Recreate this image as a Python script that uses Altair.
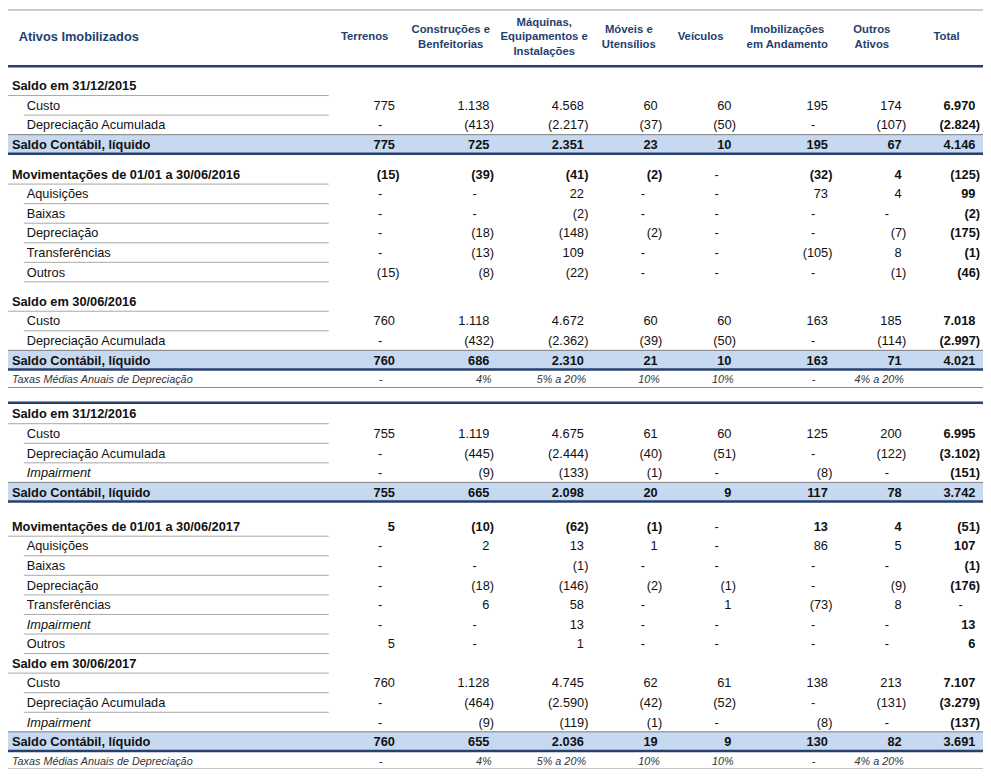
import altair as alt
import pandas as pd

# ---------------- data ----------------
table_title = "Ativos Imobilizados"
header_lines = [["Terrenos"], ["Construções e", "Benfeitorias"],
                ["Máquinas,", "Equipamentos e", "Instalações"],
                ["Móveis e", "Utensílios"], ["Veículos"],
                ["Imobilizações", "em Andamento"], ["Outros", "Ativos"], ["Total"]]

row_labels = ["Saldo em 31/12/2015", "Custo", "Depreciação Acumulada", "Saldo Contábil, líquido",
              "Movimentações de 01/01 a 30/06/2016", "Aquisições", "Baixas", "Depreciação",
              "Transferências", "Outros",
              "Saldo em 30/06/2016", "Custo", "Depreciação Acumulada", "Saldo Contábil, líquido",
              "Taxas Médias Anuais de Depreciação",
              "Saldo em 31/12/2016", "Custo", "Depreciação Acumulada", "Impairment",
              "Saldo Contábil, líquido",
              "Movimentações de 01/01 a 30/06/2017", "Aquisições", "Baixas", "Depreciação",
              "Transferências", "Impairment", "Outros",
              "Saldo em 30/06/2017", "Custo", "Depreciação Acumulada", "Impairment",
              "Saldo Contábil, líquido", "Taxas Médias Anuais de Depreciação"]

terrenos = ["", "775", "-", "775", "(15)", "-", "-", "-", "-", "(15)",
            "", "760", "-", "760", "-",
            "", "755", "-", "-", "755",
            "5", "-", "-", "-", "-", "-", "5",
            "", "760", "-", "-", "760", "-"]
construcoes = ["", "1.138", "(413)", "725", "(39)", "-", "-", "(18)", "(13)", "(8)",
               "", "1.118", "(432)", "686", "4%",
               "", "1.119", "(445)", "(9)", "665",
               "(10)", "2", "-", "(18)", "6", "-", "-",
               "", "1.128", "(464)", "(9)", "655", "4%"]
maquinas = ["", "4.568", "(2.217)", "2.351", "(41)", "22", "(2)", "(148)", "109", "(22)",
            "", "4.672", "(2.362)", "2.310", "5% a 20%",
            "", "4.675", "(2.444)", "(133)", "2.098",
            "(62)", "13", "(1)", "(146)", "58", "13", "1",
            "", "4.745", "(2.590)", "(119)", "2.036", "5% a 20%"]
moveis = ["", "60", "(37)", "23", "(2)", "-", "-", "(2)", "-", "-",
          "", "60", "(39)", "21", "10%",
          "", "61", "(40)", "(1)", "20",
          "(1)", "1", "-", "(2)", "-", "-", "-",
          "", "62", "(42)", "(1)", "19", "10%"]
veiculos = ["", "60", "(50)", "10", "-", "-", "-", "-", "-", "-",
            "", "60", "(50)", "10", "10%",
            "", "60", "(51)", "-", "9",
            "-", "-", "-", "(1)", "1", "-", "-",
            "", "61", "(52)", "-", "9", "10%"]
imobilizacoes = ["", "195", "-", "195", "(32)", "73", "-", "-", "(105)", "-",
                 "", "163", "-", "163", "-",
                 "", "125", "-", "(8)", "117",
                 "13", "86", "-", "-", "(73)", "-", "-",
                 "", "138", "-", "(8)", "130", "-"]
outros = ["", "174", "(107)", "67", "4", "4", "-", "(7)", "8", "(1)",
          "", "185", "(114)", "71", "4% a 20%",
          "", "200", "(122)", "-", "78",
          "4", "5", "-", "(9)", "8", "-", "-",
          "", "213", "(131)", "-", "82", "4% a 20%"]
total = ["", "6.970", "(2.824)", "4.146", "(125)", "99", "(2)", "(175)", "(1)", "(46)",
         "", "7.018", "(2.997)", "4.021", "",
         "", "6.995", "(3.102)", "(151)", "3.742",
         "(51)", "107", "(1)", "(176)", "-", "13", "6",
         "", "7.107", "(3.279)", "(137)", "3.691", ""]
value_columns = [terrenos, construcoes, maquinas, moveis, veiculos, imobilizacoes, outros, total]

# row styles (section / item / italic item / highlighted balance / rates)
row_kinds = ["section", "item", "item", "band",
             "section", "item", "item", "item", "item", "item",
             "section", "item", "item", "band", "taxas",
             "section", "item", "item", "item_i", "band",
             "section", "item", "item", "item", "item", "item_i", "item",
             "section", "item", "item", "item_i", "band", "taxas"]

# ---------------- layout ----------------
REF_W, REF_H = 991, 778
W, H = 975, 761
FS = W / REF_W
FONT = "Liberation Sans"
NAVY = "#27406C"
HEAD = "#1F416F"

col_right = [398, 494, 590, 665, 740, 838, 913, 988]
col_center = [362.5, 450, 545, 631, 704, 792, 878, 954]
gaps = {4: 10.5, 10: 10, 15: 15, 20: 15}
row_y = []
acc = 0
for i in range(len(row_labels)):
    acc += gaps.get(i, 0)
    row_y.append(80 + 20 * i + acc)

texts = {k: [] for k in ["title", "hcol", "lab_b", "lab_n", "lab_i", "lab_t",
                         "val_n", "val_b", "val_t"]}
rules = []
bands = []

texts["title"].append({"x": 11, "y": 30, "t": table_title})
for c, lines in enumerate(header_lines):
    n = len(lines)
    ys = {1: [30], 2: [23, 38], 3: [15, 30, 44.5]}[n]
    for ln, yy in zip(lines, ys):
        texts["hcol"].append({"x": col_center[c], "y": yy, "t": ln})

rules.append({"x": 0, "x2": REF_W, "y": 2, "c": "#9a9a9a", "w": 1})
rules.append({"x": 0, "x2": REF_W, "y": 59.5, "c": NAVY, "w": 2.5})

for i, (lab, kind) in enumerate(zip(row_labels, row_kinds)):
    y = row_y[i]
    nxt = row_kinds[i + 1] if i + 1 < len(row_kinds) else None
    if kind == "section":
        texts["lab_b"].append({"x": 4, "y": y, "t": lab})
        rules.append({"x": 0, "x2": 326, "y": y + 9.5, "c": "#a8a8a8", "w": 1})
    elif kind in ("item", "item_i"):
        texts["lab_n" if kind == "item" else "lab_i"].append({"x": 19, "y": y, "t": lab})
        if nxt != "band":
            rules.append({"x": 16, "x2": 326, "y": y + 9.5, "c": "#a8a8a8", "w": 1})
    elif kind == "band":
        texts["lab_b"].append({"x": 4, "y": y, "t": lab})
        bands.append({"x": 0, "x2": REF_W, "y": y - 10.5, "y2": y + 8.5})
        rules.append({"x": 0, "x2": REF_W, "y": y - 10.5, "c": "#7f7f7f", "w": 1})
        rules.append({"x": 0, "x2": REF_W, "y": y + 9, "c": NAVY, "w": 2.5})
    elif kind == "taxas":
        texts["lab_t"].append({"x": 4, "y": y, "t": lab})
        rules.append({"x": 0, "x2": REF_W, "y": y + 7.5, "c": "#8c8c8c", "w": 1})
    if i == 15:
        rules.append({"x": 0, "x2": REF_W, "y": y - 12, "c": NAVY, "w": 2.5})

    for c, col in enumerate(value_columns):
        v = col[i]
        if v == "":
            continue
        if v.endswith(")"):
            off = 0
        elif v == "-":
            off = 17.5
        elif kind == "taxas":
            off = 2.5
        else:
            off = 4.7
        rec = {"x": col_right[c] - off, "y": y, "t": v}
        if kind == "taxas":
            texts["val_t"].append(rec)
        elif v == "-":
            texts["val_n"].append(rec)
        elif kind in ("section", "band") or c == 7:
            texts["val_b"].append(rec)
        else:
            texts["val_n"].append(rec)

xs = alt.Scale(domain=[0, REF_W], range=[0, W], nice=False, zero=False)
ys_ = alt.Scale(domain=[0, REF_H], range=[0, H], nice=False, zero=False)
X = alt.X("x:Q", scale=xs, axis=None)
Y = alt.Y("y:Q", scale=ys_, axis=None)

band_layer = alt.Chart(pd.DataFrame(bands)).mark_rect(color="#C6D9F1").encode(
    x=X, x2="x2:Q", y=Y, y2="y2:Q")
rule_layer = alt.Chart(pd.DataFrame(rules)).mark_rule().encode(
    x=X, x2="x2:Q", y=Y,
    color=alt.Color("c:N", scale=None),
    strokeWidth=alt.StrokeWidth("w:Q", scale=None))

styles = {
    "title": dict(fontSize=13 * FS, fontWeight="bold", color=HEAD, align="left"),
    "hcol": dict(fontSize=11.5 * FS, fontWeight="bold", color=HEAD, align="center"),
    "lab_b": dict(fontSize=13 * FS, fontWeight="bold", color="#111111", align="left"),
    "lab_n": dict(fontSize=13 * FS, color="#111111", align="left"),
    "lab_i": dict(fontSize=13 * FS, fontStyle="italic", color="#111111", align="left"),
    "lab_t": dict(fontSize=11 * FS, fontStyle="italic", color="#333333", align="left"),
    "val_n": dict(fontSize=13 * FS, color="#111111", align="right"),
    "val_b": dict(fontSize=13 * FS, fontWeight="bold", color="#111111", align="right"),
    "val_t": dict(fontSize=11 * FS, fontStyle="italic", color="#333333", align="right"),
}
text_layers = []
for k, recs in texts.items():
    if not recs:
        continue
    text_layers.append(
        alt.Chart(pd.DataFrame(recs)).mark_text(baseline="middle", font=FONT, **styles[k]).encode(
            x=X, y=Y, text="t:N"))

chart = alt.layer(band_layer, rule_layer, *text_layers).properties(
    width=W, height=H, padding=0, autosize=alt.AutoSizeParams(type="none")
).configure_view(stroke="transparent")

chart.save("out.html", embed_options={"renderer": "svg", "actions": False})
